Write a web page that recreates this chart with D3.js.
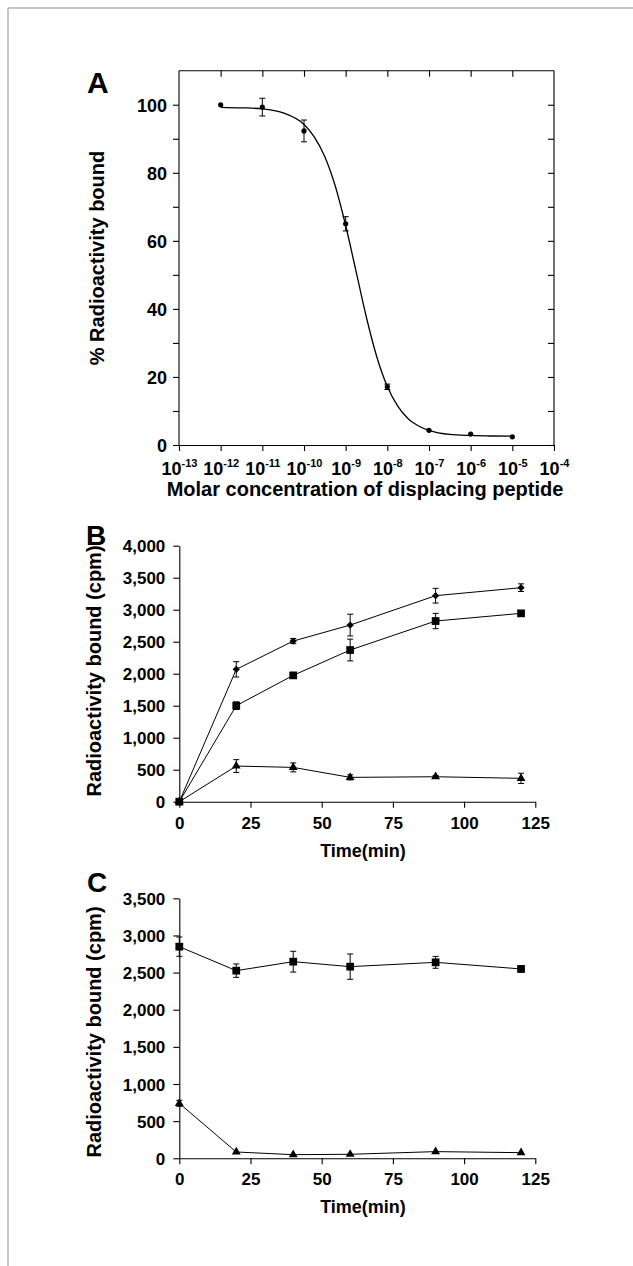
<!DOCTYPE html>
<html><head><meta charset="utf-8">
<script src="https://cdn.jsdelivr.net/npm/d3@7"></script>
<style>
body{margin:0;background:#fff}
svg{display:block}
text{font-family:"Liberation Sans",Arial,Helvetica,sans-serif;font-weight:bold;fill:#000}
</style>
</head><body>
<svg id="chart" width="633" height="1266"></svg>
<script>
// ---------- Panel A: competitive displacement ----------
const aLogConc = [-12, -11, -10, -9, -8, -7, -6, -5];
const aBound = [100, 99.3, 92.3, 65.0, 17.1, 4.3, 3.2, 2.4];
const aErr = [0, 2.6, 3.2, 2.1, 0.8, 0, 0, 0];
// fitted curve
const aFitLogConc = [-12, -11.5, -11, -10.5, -10, -9.75, -9.5, -9.25, -9, -8.75, -8.5, -8.25, -8, -7.75, -7.5, -7.25, -7, -6.5, -6, -5.5, -5];
const aFitBound = [99.25, 99.1, 98.8, 97.6, 94.2, 90.5, 84.7, 76.1, 64.5, 51.0, 37.4, 25.8, 17.2, 11.4, 7.7, 5.6, 4.3, 3.1, 2.8, 2.65, 2.6];
const aXTickExp = [-13, -12, -11, -10, -9, -8, -7, -6, -5, -4];
const aYTicks = [0, 20, 40, 60, 80, 100];
const aYMinor = [10, 30, 50, 70, 90];

// ---------- Panel B: association time course ----------
const timeB = [0, 20, 40, 60, 90, 120];
const bDiamond = [0, 2068, 2510, 2760, 3219, 3344];
const bDiamondErr = [0, 120, 40, 170, 115, 60];
const bSquare = [0, 1500, 1974, 2370, 2823, 2943];
const bSquareErr = [0, 60, 30, 170, 120, 30];
const bTriangle = [0, 557, 536, 380, 390, 365];
const bTriangleErr = [0, 100, 70, 40, 20, 80];
const bYTicks = [0, 500, 1000, 1500, 2000, 2500, 3000, 3500, 4000];

// ---------- Panel C: dissociation time course ----------
const timeC = [0, 20, 40, 60, 90, 120];
const cSquare = [2849, 2526, 2647, 2580, 2638, 2549];
const cSquareErr = [130, 90, 140, 170, 80, 40];
const cTriangle = [740, 85, 49, 54, 90, 76];
const cTriangleErr = [40, 0, 0, 0, 0, 0];
const cYTicks = [0, 500, 1000, 1500, 2000, 2500, 3000, 3500];
const timeTicks = [0, 25, 50, 75, 100, 125];

const svg = d3.select("#chart");
const fmt = d3.format(",");

// page frame lines
svg.append("line").attr("x1", 8).attr("x2", 633).attr("y1", 8).attr("y2", 8)
  .attr("stroke", "#b4b4b4").attr("stroke-width", 1.5);
svg.append("line").attr("x1", 8).attr("x2", 8).attr("y1", 8).attr("y2", 1266)
  .attr("stroke", "#b4b4b4").attr("stroke-width", 1.5);

function styleAxis(g, fs) {
  g.select(".domain").attr("stroke", "#000").attr("stroke-width", 1.1);
  g.selectAll(".tick line").attr("stroke", "#000").attr("stroke-width", 1.1);
  g.selectAll(".tick text").attr("font-size", fs).attr("font-family", null).attr("fill", "#000");
  g.attr("font-family", null).attr("font-size", null);
}

function errorBars(g, xs, ys, es, x, y) {
  xs.forEach((xv, i) => {
    if (!es[i]) return;
    const cx = x(xv), y1 = y(ys[i] - es[i]), y2 = y(ys[i] + es[i]);
    g.append("line").attr("x1", cx).attr("x2", cx).attr("y1", y1).attr("y2", y2).attr("stroke", "#000").attr("stroke-width", 1);
    [y1, y2].forEach(yy => g.append("line").attr("x1", cx - 3).attr("x2", cx + 3).attr("y1", yy).attr("y2", yy).attr("stroke", "#000").attr("stroke-width", 1));
  });
}

function series(g, xs, ys, es, x, y, sym, size) {
  errorBars(g, xs, ys, es, x, y);
  const line = d3.line().x((d, i) => x(xs[i])).y(d => y(d));
  g.append("path").datum(ys).attr("d", line).attr("fill", "none").attr("stroke", "#000").attr("stroke-width", 1);
  g.selectAll(null).data(ys).enter().append("path")
    .attr("d", d3.symbol().type(sym).size(size))
    .attr("transform", (d, i) => `translate(${x(xs[i])},${y(d)})`)
    .attr("fill", "#000");
}

// ================= Panel A =================
{
  const x = d3.scaleLog().domain([1e-13, 1e-4]).range([179, 554]);
  const y = d3.scaleLinear().domain([0, 110]).range([445, 70.7]);
  const g = svg.append("g");
  const xTickVals = aXTickExp.map(e => Math.pow(10, e));

  // bottom axis
  const gx = g.append("g").attr("transform", "translate(0,445)")
    .call(d3.axisBottom(x).tickValues(xTickVals).tickSize(6).tickSizeOuter(0).tickFormat(() => ""));
  styleAxis(gx, 18);
  gx.selectAll(".tick text").each(function(d, i) {
    const t = d3.select(this).attr("y", 30).attr("dy", null).attr("font-size", 18);
    t.append("tspan").text("10");
    t.append("tspan").attr("font-size", 11).attr("dy", -8).text(String(aXTickExp[i]));
  });
  // top axis (inside ticks)
  const gt = g.append("g").attr("transform", "translate(0,70.7)")
    .call(d3.axisTop(x).tickValues(xTickVals.slice(1, -1)).tickSize(-6).tickSizeOuter(0).tickFormat(() => ""));
  styleAxis(gt, 18);
  gt.select(".domain").attr("d", "M179,0H554");
  // left axis
  const gy = g.append("g").attr("transform", "translate(179,0)")
    .call(d3.axisLeft(y).tickValues(aYTicks).tickSize(6).tickSizeOuter(0).tickPadding(6));
  styleAxis(gy, 18);
  gy.select(".domain").attr("d", "M0,445V70.7");
  gy.selectAll(".tick text").attr("dy", "0.36em");
  const gym = g.append("g").attr("transform", "translate(179,0)")
    .call(d3.axisLeft(y).tickValues(aYMinor).tickSize(6).tickFormat(() => ""));
  styleAxis(gym, 18); gym.select(".domain").remove();
  // right axis (inside ticks)
  const gr = g.append("g").attr("transform", "translate(554,0)")
    .call(d3.axisRight(y).tickValues(aYTicks.concat(aYMinor)).tickSize(-6).tickFormat(() => ""));
  styleAxis(gr, 18);
  gr.select(".domain").attr("d", "M0,445V70.7");

  // fitted curve
  g.append("path").datum(aFitBound)
    .attr("d", d3.line().x((d, i) => x(Math.pow(10, aFitLogConc[i]))).y(d => y(d)).curve(d3.curveMonotoneX))
    .attr("fill", "none").attr("stroke", "#000").attr("stroke-width", 1.3);
  const conc = aLogConc.map(e => Math.pow(10, e));
  errorBars(g, conc, aBound, aErr, x, y);
  g.selectAll(null).data(aBound).enter().append("circle")
    .attr("cx", (d, i) => x(conc[i])).attr("cy", d => y(d)).attr("r", 2.6).attr("fill", "#000");

  svg.append("text").attr("x", 87).attr("y", 93).attr("font-size", 30).text("A");
  svg.append("text").attr("transform", "translate(104,258) rotate(-90)").attr("text-anchor", "middle")
    .attr("font-size", 20).text("% Radioactivity bound");
  svg.append("text").attr("x", 365).attr("y", 496).attr("text-anchor", "middle")
    .attr("font-size", 20).text("Molar concentration of displacing peptide");
}

// ================= Panel B =================
{
  const x = d3.scaleLinear().domain([0, 125]).range([179.3, 535.3]);
  const y = d3.scaleLinear().domain([0, 4000]).range([801.7, 545.7]);
  const g = svg.append("g");
  const gx = g.append("g").attr("transform", "translate(0,801.7)")
    .call(d3.axisBottom(x).tickValues(timeTicks).tickSize(6).tickSizeOuter(0).tickPadding(9));
  styleAxis(gx, 17);
  const gy = g.append("g").attr("transform", "translate(179.3,0)")
    .call(d3.axisLeft(y).tickValues(bYTicks).tickSize(6).tickSizeOuter(0).tickPadding(8).tickFormat(fmt));
  styleAxis(gy, 17);
  gy.selectAll(".tick text").attr("dy", "0.36em");

  series(g, timeB, bTriangle, bTriangleErr, x, y, d3.symbolTriangle, 34);
  series(g, timeB, bSquare, bSquareErr, x, y, d3.symbolSquare, 60);
  series(g, timeB, bDiamond, bDiamondErr, x, y, d3.symbolDiamond2, 34);

  svg.append("text").attr("x", 86).attr("y", 545).attr("font-size", 28).text("B");
  svg.append("text").attr("transform", "translate(101,671) rotate(-90)").attr("text-anchor", "middle")
    .attr("font-size", 20).text("Radioactivity bound (cpm)");
  svg.append("text").attr("x", 363).attr("y", 857).attr("text-anchor", "middle")
    .attr("font-size", 18).text("Time(min)");
}

// ================= Panel C =================
{
  const x = d3.scaleLinear().domain([0, 125]).range([179.3, 535.3]);
  const y = d3.scaleLinear().domain([0, 3500]).range([1158.3, 898.3]);
  const g = svg.append("g");
  const gx = g.append("g").attr("transform", "translate(0,1158.3)")
    .call(d3.axisBottom(x).tickValues(timeTicks).tickSize(6).tickSizeOuter(0).tickPadding(9));
  styleAxis(gx, 17);
  const gy = g.append("g").attr("transform", "translate(179.3,0)")
    .call(d3.axisLeft(y).tickValues(cYTicks).tickSize(6).tickSizeOuter(0).tickPadding(8).tickFormat(fmt));
  styleAxis(gy, 17);
  gy.selectAll(".tick text").attr("dy", "0.36em");

  series(g, timeC, cTriangle, cTriangleErr, x, y, d3.symbolTriangle, 34);
  series(g, timeC, cSquare, cSquareErr, x, y, d3.symbolSquare, 60);

  svg.append("text").attr("x", 87).attr("y", 892).attr("font-size", 28).text("C");
  svg.append("text").attr("transform", "translate(101,1032) rotate(-90)").attr("text-anchor", "middle")
    .attr("font-size", 20).text("Radioactivity bound (cpm)");
  svg.append("text").attr("x", 363).attr("y", 1213).attr("text-anchor", "middle")
    .attr("font-size", 18).text("Time(min)");
}
</script>
</body></html>
